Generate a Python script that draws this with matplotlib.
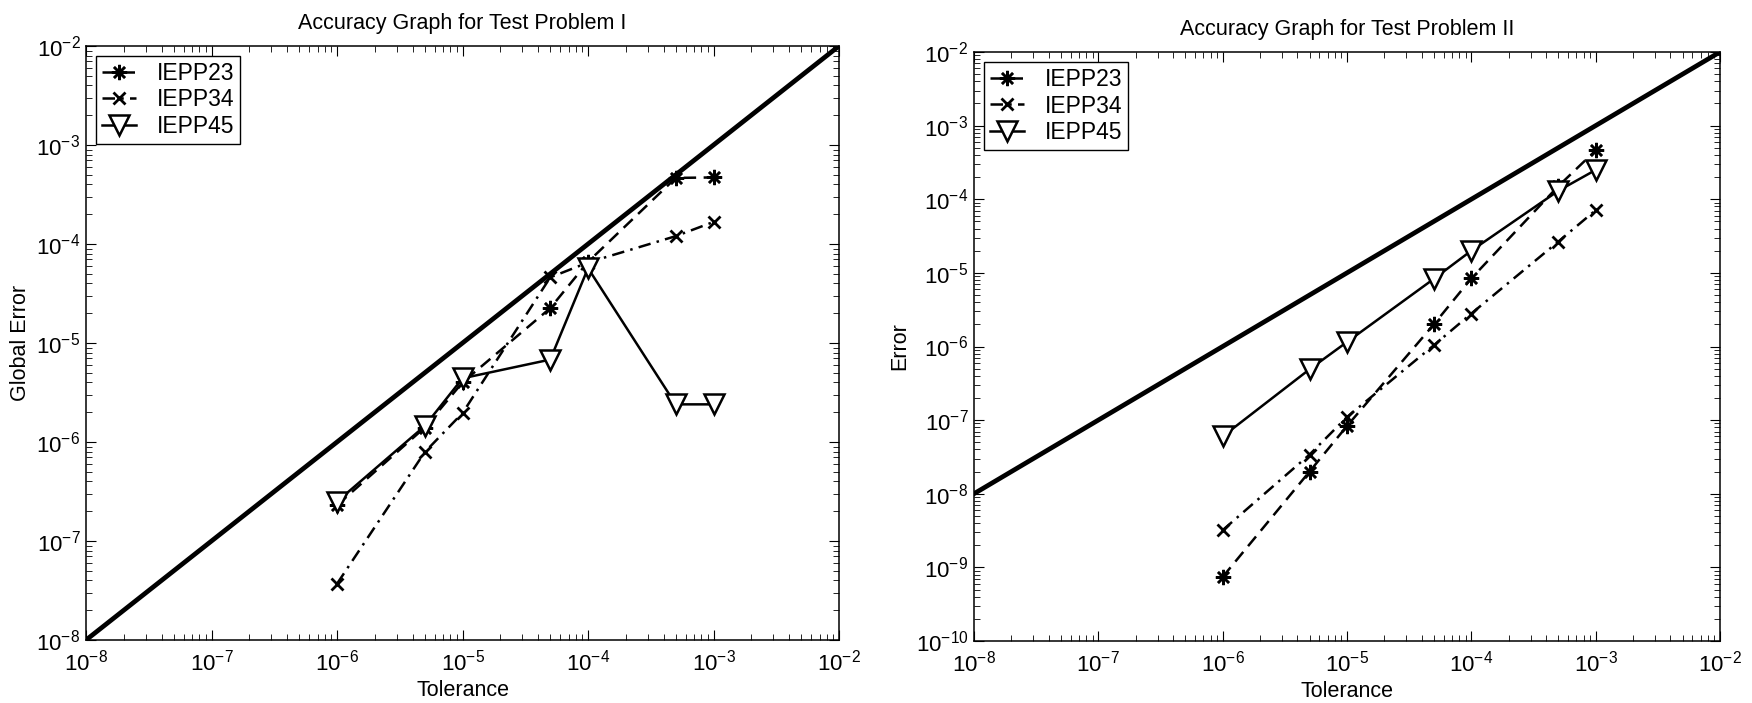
import matplotlib.pyplot as plt
import numpy as np

plt.rcParams['font.family'] = ['Liberation Sans', 'DejaVu Sans']
plt.rcParams['mathtext.fontset'] = 'custom'
plt.rcParams['mathtext.rm'] = 'Liberation Sans'

# Tolerances
tol = [1e-6, 5e-6, 1e-5, 5e-5, 1e-4, 5e-4, 1e-3]

# Test Problem I (global error)
p1_iepp23 = [2.3e-7, 1.4e-6, 4.0e-6, 2.25e-5, 6.6e-5, 4.65e-4, 4.7e-4]
p1_iepp34 = [3.7e-8, 7.9e-7, 1.96e-6, 4.6e-5, 6.5e-5, 1.2e-4, 1.67e-4]
p1_iepp45 = [2.5e-7, 1.45e-6, 4.4e-6, 6.8e-6, 5.7e-5, 2.4e-6, 2.4e-6]

# Test Problem II (error)
p2_iepp23 = [7.4e-10, 2.0e-8, 8.3e-8, 2.0e-6, 8.4e-6, 1.5e-4, 4.6e-4]
p2_iepp34 = [3.2e-9, 3.4e-8, 1.1e-7, 1.04e-6, 2.8e-6, 2.65e-5, 7.1e-5]
p2_iepp45 = [6.0e-8, 4.9e-7, 1.15e-6, 8.3e-6, 2.0e-5, 1.3e-4, 2.5e-4]

# Reference line error = tolerance
ref_x = [1e-8, 1e-2]
ref_y = [1e-8, 1e-2]

fig = plt.figure(figsize=(17.52, 7.03), dpi=100)
ax1 = fig.add_axes([0.0491, 0.0896, 0.4298, 0.8450])
ax2 = fig.add_axes([0.5559, 0.0882, 0.4258, 0.8378])

star = (8, 2, 0)


def draw(ax, d23, d34, d45, title, ylabel, ylim):
    ax.loglog(ref_x, ref_y, color='black', lw=3.4)
    ax.loglog(tol, d23, color='black', ls='--', lw=1.8, marker=star,
              ms=11, mew=1.8, label='IEPP23', dashes=(5, 3))
    ax.loglog(tol, d34, color='black', ls='-.', lw=1.8, marker='x',
              ms=9, mew=2.0, label='IEPP34', dashes=(5, 2.5, 1, 2.5))
    ax.loglog(tol, d45, color='black', ls='-', lw=1.8, marker='v',
              ms=15, mew=1.8, mfc='white', label='IEPP45')
    ax.set_xlim(1e-8, 1e-2)
    ax.set_ylim(*ylim)
    ax.set_title(title, fontsize=15.5, pad=12)
    ax.set_xlabel('Tolerance', fontsize=15.5, labelpad=3)
    ax.set_ylabel(ylabel, fontsize=15.5, labelpad=4)
    ax.tick_params(which='both', direction='in', top=True, right=True,
                   labelsize=16)
    ax.tick_params(axis='x', which='major', pad=7)
    ax.tick_params(axis='y', which='major', pad=4)
    ax.tick_params(which='major', length=7)
    ax.tick_params(which='minor', length=4)
    for s in ax.spines.values():
        s.set_linewidth(1.1)
    leg = ax.legend(loc='upper left', fontsize=16.5, fancybox=False,
                    edgecolor='black', framealpha=1, handlelength=1.5,
                    borderaxespad=0.45, labelspacing=0.15, borderpad=0.25,
                    handletextpad=0.9)
    leg.get_frame().set_linewidth(1.0)


draw(ax1, p1_iepp23, p1_iepp34, p1_iepp45,
     'Accuracy Graph for Test Problem I', 'Global Error', (1e-8, 1e-2))
draw(ax2, p2_iepp23, p2_iepp34, p2_iepp45,
     'Accuracy Graph for Test Problem II', 'Error', (1e-10, 1e-2))

plt.savefig('out.png', dpi=100)
